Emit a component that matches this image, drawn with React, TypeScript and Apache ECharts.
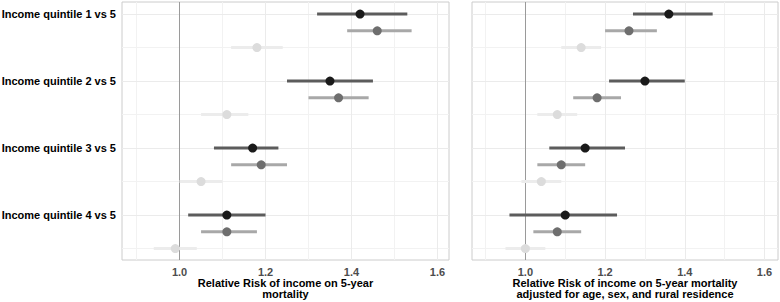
import React, { useEffect, useRef } from "react";
import * as echarts from "echarts";

const groups = [
  "Income quintile 1 vs 5",
  "Income quintile 2 vs 5",
  "Income quintile 3 vs 5",
  "Income quintile 4 vs 5",
];
const xTicks = [1.0, 1.2, 1.4, 1.6];
const xMinor = [0.9, 1.1, 1.3, 1.5];
const refValue = 1.0;

// Panel 1: unadjusted
const p1aEst = [1.42, 1.35, 1.17, 1.11];
const p1aLo = [1.32, 1.25, 1.08, 1.02];
const p1aHi = [1.53, 1.45, 1.23, 1.2];
const p1bEst = [1.46, 1.37, 1.19, 1.11];
const p1bLo = [1.39, 1.3, 1.12, 1.05];
const p1bHi = [1.54, 1.44, 1.25, 1.18];
const p1cEst = [1.18, 1.11, 1.05, 0.99];
const p1cLo = [1.12, 1.05, 1.0, 0.94];
const p1cHi = [1.24, 1.16, 1.1, 1.04];

// Panel 2: adjusted for age, sex, rural residence
const p2aEst = [1.36, 1.3, 1.15, 1.1];
const p2aLo = [1.27, 1.21, 1.06, 0.96];
const p2aHi = [1.47, 1.4, 1.25, 1.23];
const p2bEst = [1.26, 1.18, 1.09, 1.08];
const p2bLo = [1.2, 1.12, 1.03, 1.02];
const p2bHi = [1.33, 1.24, 1.15, 1.14];
const p2cEst = [1.14, 1.08, 1.04, 1.0];
const p2cLo = [1.09, 1.03, 0.99, 0.95];
const p2cHi = [1.19, 1.13, 1.09, 1.05];

const titles = [
  "Relative Risk of income on 5-year\nmortality",
  "Relative Risk of income on 5-year mortality\nadjusted for age, sex, and rural residence",
];

const FONT = "Liberation Sans, Arial, Helvetica, sans-serif";

const styles = [
  { point: "#1a1a1a", bar: "#5c5c5c" },
  { point: "#6e6e6e", bar: "#a8a8a8" },
  { point: "#dcdcdc", bar: "#ececec" },
];

function buildSeries(panel: number, sub: number, est: number[], lo: number[], hi: number[]) {
  const st = styles[sub];
  const off = sub * 0.25;
  return [
    {
      type: "custom",
      xAxisIndex: panel,
      yAxisIndex: panel,
      silent: true,
      z: 3,
      data: est.map((_, i) => [lo[i], hi[i], i + off]),
      encode: { x: [0, 1], y: 2 },
      renderItem: (params: any, api: any) => {
        const a = api.coord([api.value(0), api.value(2)]);
        const b = api.coord([api.value(1), api.value(2)]);
        return {
          type: "line",
          shape: { x1: a[0], y1: a[1], x2: b[0], y2: b[1] },
          style: { stroke: st.bar, lineWidth: 3 },
        };
      },
    },
    {
      type: "scatter",
      xAxisIndex: panel,
      yAxisIndex: panel,
      silent: true,
      z: 4,
      symbolSize: 9,
      itemStyle: { color: st.point, opacity: 1 },
      data: est.map((e, i) => [e, i + off]),
    },
  ];
}

function gridSeries(panel: number) {
  const hMajor = groups.map((_, i) => ({ yAxis: i, lineStyle: { color: "#ebebeb", width: 1, type: "solid" } }));
  const hMinor = groups.map((_, i) => ({ yAxis: i + 0.5, lineStyle: { color: "#f2f2f2", width: 1, type: "solid" } }));
  const vMajor = xTicks.map((v) => ({ xAxis: v, lineStyle: { color: "#ebebeb", width: 1, type: "solid" } }));
  const vMinor = xMinor.map((v) => ({ xAxis: v, lineStyle: { color: "#f2f2f2", width: 1, type: "solid" } }));
  return [
    {
      type: "line",
      xAxisIndex: panel,
      yAxisIndex: panel,
      data: [],
      silent: true,
      markLine: {
        silent: true,
        z: 1,
        symbol: ["none", "none"],
        label: { show: false },
        animation: false,
        data: [...hMinor, ...vMinor, ...hMajor, ...vMajor],
      },
    },
    {
      type: "line",
      xAxisIndex: panel,
      yAxisIndex: panel,
      data: [],
      silent: true,
      markLine: {
        silent: true,
        z: 2,
        symbol: ["none", "none"],
        label: { show: false },
        animation: false,
        data: [{ xAxis: refValue, lineStyle: { color: "#9a9a9a", width: 1, type: "solid" } }],
      },
    },
  ];
}

export default function App() {
  const ref = useRef<HTMLDivElement>(null);
  useEffect(() => {
    if (!ref.current) return;
    const chart = echarts.init(ref.current, null, { renderer: "svg" });
    const xMax = [1.627, 1.634];
    const option: any = {
      animation: false,
      backgroundColor: "#ffffff",
      grid: [
        { left: 122, right: 331, top: 2, bottom: 42, show: true, borderColor: "#cccccc", borderWidth: 1, backgroundColor: "transparent", containLabel: false, outerBoundsMode: "none" },
        { left: 472, right: 2, top: 2, bottom: 42, show: true, borderColor: "#cccccc", borderWidth: 1, backgroundColor: "transparent", containLabel: false, outerBoundsMode: "none" },
      ],
      xAxis: [0, 1].map((p) => ({
        type: "value",
        gridIndex: p,
        min: 0.866,
        max: xMax[p],
        axisLine: { show: false },
        axisTick: { show: false },
        splitLine: { show: false },
        axisLabel: {
          customValues: xTicks,
          formatter: (v: number) => v.toFixed(1),
          color: "#4d4d4d",
          fontWeight: "bold",
          fontSize: 11,
          fontFamily: FONT,
          margin: 6,
        },
        name: titles[p],
        nameLocation: "middle",
        nameGap: 17,
        nameMoveOverlap: false,
        nameTextStyle: {
          color: "#000000",
          fontWeight: "bold",
          fontSize: 11,
          fontFamily: FONT,
          lineHeight: 11.5,
          verticalAlign: "top",
        },
      })),
      yAxis: [0, 1].map((p) => ({
        type: "value",
        gridIndex: p,
        inverse: true,
        min: -0.18,
        max: 3.67,
        axisLine: { show: false },
        axisTick: { show: false },
        splitLine: { show: false },
        axisLabel: {
          show: p === 0,
          customValues: [0, 1, 2, 3],
          formatter: (v: number) => groups[Math.round(v)],
          color: "#000000",
          fontWeight: "bold",
          fontSize: 11,
          fontFamily: FONT,
          margin: 6,
        },
      })),
      series: [
        ...gridSeries(0),
        ...gridSeries(1),
        ...buildSeries(0, 2, p1cEst, p1cLo, p1cHi),
        ...buildSeries(0, 1, p1bEst, p1bLo, p1bHi),
        ...buildSeries(0, 0, p1aEst, p1aLo, p1aHi),
        ...buildSeries(1, 2, p2cEst, p2cLo, p2cHi),
        ...buildSeries(1, 1, p2bEst, p2bLo, p2bHi),
        ...buildSeries(1, 0, p2aEst, p2aLo, p2aHi),
      ],
    };
    chart.setOption(option);
    return () => chart.dispose();
  }, []);
  return (
    <div
      ref={ref}
      style={{ position: "absolute", left: 0, top: 0, width: 780, height: 302 }}
    />
  );
}
